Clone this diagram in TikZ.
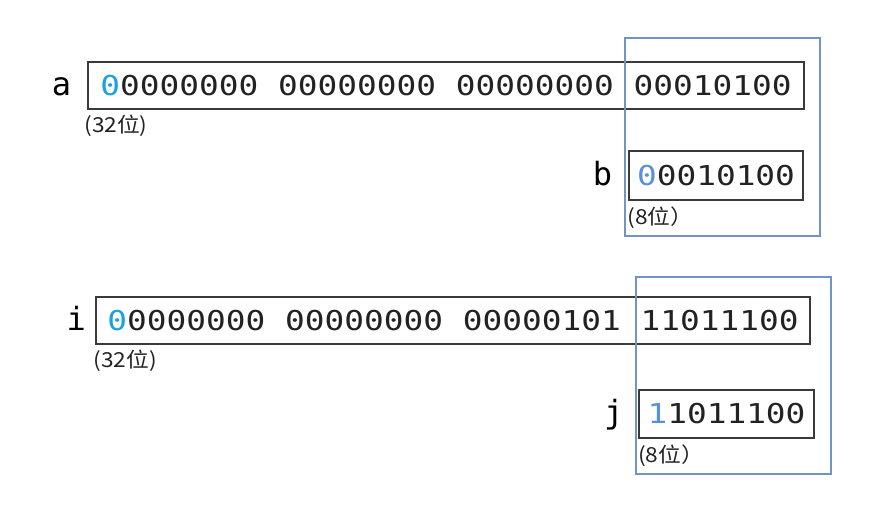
\documentclass[tikz,border=0pt]{standalone}
\usepackage{fontspec}
\usepackage{xcolor}
\usepackage{tikz}
\usetikzlibrary{positioning}
\newfontfamily\bitfont[FakeStretch=1.2]{DejaVu Sans Mono}
\newfontfamily\varfont{DejaVu Sans Mono}
\newfontfamily\cjkfont[FakeStretch=1.1]{Noto Sans CJK TC}
\definecolor{bitLine}{HTML}{3A3A3A}
\definecolor{bitText}{HTML}{222222}
\definecolor{signCyan}{HTML}{1BA1E2}
\definecolor{signBlue}{HTML}{5B8FD8}
\definecolor{frameBlue}{HTML}{7094C8}
\tikzset{
  bitbox/.style={rectangle, draw=bitLine, line width=0.9pt, text=bitText, font=\bitfont\fontsize{20.5}{22}\selectfont, inner sep=0pt},
  varlabel/.style={font=\varfont\fontsize{24}{26}\selectfont, text=black, inner sep=0pt},
  sizelabel/.style={font=\cjkfont\fontsize{15.5}{17}\selectfont, text=bitText, anchor=base west, inner sep=0pt},
  copyframe/.style={draw=frameBlue, line width=0.8pt},
}

\begin{document}
\begin{tikzpicture}[x=0.75pt,y=-0.75pt]
      \useasboundingbox (0,0) rectangle (888,512);

      % --- int a and byte b ---
      \node[bitbox, minimum width=537pt, minimum height=35.25pt]
      (a) at (446,85.5)
      {\textcolor{signCyan}{0}0000000 00000000 00000000 00010100};

      \node[bitbox, minimum width=130.5pt, minimum height=36.75pt]
      (b) at (716,175.5)
      {\textcolor{signBlue}{0}0010100};

      \node[varlabel, base left=12pt of a] (alabel) {a};
      \node[varlabel, base left=12pt of b] (blabel) {b};
      \node[sizelabel] (asize) at ([xshift=-2.5pt,yshift=-17pt]a.south west) {(32位)};
      \node[sizelabel] (bsize) at ([xshift=-1pt,yshift=-18pt]b.south west) {(8位）};

      \draw[copyframe] (625,38) rectangle (820,236);

      % --- int i and byte j ---
      \node[bitbox, minimum width=535.5pt, minimum height=35.25pt]
      (i) at (453,320.5)
      {\textcolor{signCyan}{0}0000000 00000000 00000101 11011100};

      \node[bitbox, minimum width=131.25pt, minimum height=36pt]
      (j) at (726.5,414)
      {\textcolor{signBlue}{1}1011100};

      \node[varlabel, base left=7pt of i] (ilabel) {i};
      \node[varlabel, base left=11pt of j] (jlabel) {j};
      \node[sizelabel] (isize) at ([xshift=-1.5pt,yshift=-17pt]i.south west) {(32位)};
      \node[sizelabel] (jsize) at ([xshift=-0.5pt,yshift=-18pt]j.south west) {(8位）};

      \draw[copyframe] (636,277) rectangle (831,474);
    \end{tikzpicture}
\end{document}
